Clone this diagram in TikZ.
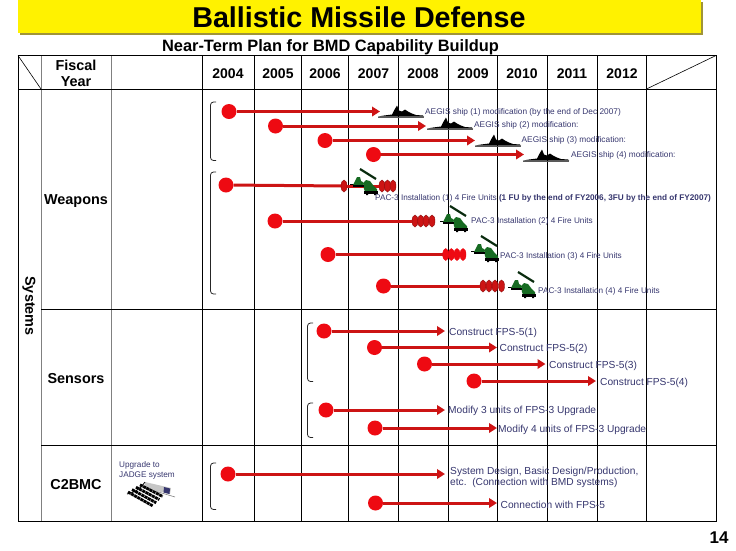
\documentclass[tikz,border=0pt]{standalone}
\usepackage{fontspec}
\setmainfont{Liberation Sans}
\usetikzlibrary{arrows.meta,shapes.geometric}
\definecolor{barred}{HTML}{CC1414}
\definecolor{dotred}{HTML}{EE0A12}
\definecolor{labelblue}{HTML}{36366E}
\definecolor{bannerolive}{HTML}{A09438}
\definecolor{armygreen}{HTML}{176B22}
\tikzset{
  startdot/.style={circle,fill=dotred,inner sep=0pt,minimum size=15pt},
  unitdot/.style={ellipse,fill=barred,draw=barred!70!black,line width=.4pt,inner sep=0pt,minimum width=6pt,minimum height=12pt},
  barline/.style={draw=barred,line width=3pt},
  bararrow/.style={barline,-{Triangle[length=8pt,width=9.5pt,fill=dotred]}},
  tasklabel/.style={anchor=west,inner sep=0pt,yshift=-1pt,text=labelblue,font=\fontsize{10.2}{11.5}\selectfont},
  shiplabel/.style={anchor=west,inner sep=0pt,yshift=-1pt,text=labelblue,font=\fontsize{8.3}{10}\selectfont},
  pactext/.style={anchor=west,inner sep=0pt,yshift=-.5pt,text=labelblue,font=\fontsize{8.2}{10}\selectfont},
  yearlabel/.style={font=\bfseries\fontsize{14}{16}\selectfont,inner sep=0pt,yshift=-.8pt},
  rowlabel/.style={font=\bfseries\fontsize{14.4}{15}\selectfont,inner sep=0pt,align=center,yshift=-1pt},
  grid/.style={line width=.8pt,black},
  brace/.style={line width=.8pt,black!85,rounded corners=3pt},
  ship/.pic={
    \fill[black] (0,0)--(6,-1)--(14,-2)--(16,-6)--(19,-11)--(21,-6)--(24,-5)--(27,-7)--(30,-5)--(34,-3)--(38,-1.5)--(45,-1)--(46,0)--cycle;
    \draw[gray!70!black,line width=1pt] (0,.5)--(46,.5);
  },
  launcher/.pic={
    \draw[black,line width=.8pt] (0,0)--(5,0);
    \draw[armygreen!40!black,line width=2.2pt] (10,-15)--(26,-5);
    \fill[armygreen] (3,1)--(5,-3)--(7,-7)--(10,-7)--(11,-3)--(13,-2)--(13,1)--cycle;
    \fill[armygreen] (14,5)--(13,-1)--(16,-4)--(20,-3)--(23,1)--(27,5)--(27,8)--(15,8)--cycle;
    \fill[black] (3,1) rectangle (14,3);
    \fill[black] (14,7) rectangle (28,9.5);
    \fill[black] (16,9) rectangle (18,11) (24,9) rectangle (26,11);
  },
}
\begin{document}
\begin{tikzpicture}[x=1pt,y=-1pt]
\useasboundingbox (0,0) rectangle (736,550);
\fill[bannerolive] (20,2) rectangle (702.5,34.5);
\fill[yellow] (18,0) rectangle (700.5,33);
\node[inner sep=0pt,font=\bfseries\fontsize{28.7}{30}\selectfont] (title) at (359,17) {Ballistic Missile Defense};
\node[inner sep=0pt,font=\bfseries\fontsize{16.4}{18}\selectfont] (subtitle) at (330.5,47) {Near-Term Plan for BMD Capability Buildup};

\draw[gray,line width=1pt] (41,55.5)--(41,521) (111,55.5)--(111,521);
\foreach \x in {202,254.5,301.5,348.5,398.5,448.5,497.5,547.5,597.5,646.5}
  \draw[grid] (\x,55.5)--(\x,521);
\draw[grid] (18,55.5) rectangle (716,521);
\draw[grid] (18,89)--(716,89) (41,309)--(716,309) (41,445.5)--(716,445.5);
\draw[line width=.6pt] (18,55.5)--(41,89) (646.5,89)--(716,55.5);

\node[rowlabel] (fiscal) at (76,72.5) {Fiscal\\[1.5pt]Year};
\foreach \x/\yr in {228/2004,278/2005,325/2006,373.5/2007,423/2008,473/2009,522/2010,572/2011,622/2012}
  \node[yearlabel] (y\yr) at (\x,73) {\yr};
\node[rowlabel] (weapons) at (76,200) {Weapons};
\node[rowlabel] (sensors) at (76,378) {Sensors};
\node[rowlabel] (c2bmc) at (76,484) {C2BMC};
\node[rowlabel,rotate=-90] (systems) at (29,305) {Systems};
\node[inner sep=0pt,anchor=north west,align=left,text=labelblue,font=\fontsize{8.2}{10}\selectfont] (jadge) at (119,461.5) {Upgrade to\\JADGE system};
\fill[gray!45] (145,482)--(171,488)--(170,494)--(144,488)--cycle;
\fill[labelblue] (164,487)--(170,488.5)--(169.5,494)--(163.5,492.5)--cycle;
\draw[black,line width=.8pt] (127,494) .. controls (136,492) and (141,488) .. (145,482);
\draw[gray,line width=.6pt] (145,488)--(175,497);
\foreach \d in {0,4,8,12}
  \draw[black,line width=2.8pt,dash pattern=on 3pt off .6pt] (128+\d,492-\d*.6)--(153+\d*.8,506-\d*.8);
\node[inner sep=0pt,font=\bfseries\fontsize{17}{18}\selectfont] (page) at (719,537.5) {14};

\draw[brace] (216,102)--(210.5,102)--(210.5,160.5)--(216,160.5);
\draw[brace] (216,172)--(210.5,172)--(210.5,294)--(216,294);
\draw[brace] (313,323)--(307.5,323)--(307.5,381.5)--(313,381.5);
\draw[brace] (313,403)--(307.5,403)--(307.5,437.5)--(313,437.5);
\draw[brace] (216,463)--(210.5,463)--(210.5,509.5)--(216,509.5);

\node[startdot] (a1) at (229,111.5) {};
\node[startdot] (a2) at (275.5,126) {};
\node[startdot] (a3) at (325,140.5) {};
\node[startdot] (a4) at (373.5,154.5) {};
\coordinate (a1end) at (380,111.5);
\coordinate (a2end) at (426,126);
\coordinate (a3end) at (475,140.5);
\coordinate (a4end) at (524,154.5);
\draw[bararrow] (a1)--(a1end);
\draw[bararrow] (a2)--(a2end);
\draw[bararrow] (a3)--(a3end);
\draw[bararrow] (a4)--(a4end);
\pic at (378,116.5) {ship};
\pic at (427,128.5) {ship};
\pic at (475,145.5) {ship};
\pic at (523,160.5) {ship};
\node[shiplabel] (a1text) at (425,111) {AEGIS ship (1) modification (by the end of Dec 2007)};
\node[shiplabel] (a2text) at (474,124) {AEGIS ship (2) modification:};
\node[shiplabel] (a3text) at (521.5,139) {AEGIS ship (3) modification:};
\node[shiplabel] (a4text) at (571,154) {AEGIS ship (4) modification:};

\node[startdot] (p1) at (226,185) {};
\node[startdot] (p2) at (275,221) {};
\node[startdot] (p3) at (328,254.5) {};
\node[startdot] (p4) at (383.5,286) {};
\node[unitdot] (u1) at (344,186) {};
\foreach \n/\x in {2/382,3/387.5,4/393}
  \node[unitdot] (u\n) at (\x,186) {};
\foreach \n/\x in {1/415,2/420.7,3/426,4/432}
  \node[unitdot] (v\n) at (\x,221) {};
\foreach \n/\x in {1/445.7,2/451.3,3/457,4/463}
  \node[unitdot,fill=dotred,draw=dotred] (w\n) at (\x,254.5) {};
\foreach \n/\x in {1/483,2/489,3/495,4/501.5}
  \node[unitdot] (z\n) at (\x,286) {};
\draw[barline] (p1)--(u1);
\draw[barline] (u1)--(u2);
\draw[barline] (p2)--(v1);
\draw[barline] (p3)--(w1);
\draw[barline] (p4)--(z1);
\pic at (350,184) {launcher};
\pic at (440,221) {launcher};
\pic at (471,251) {launcher};
\pic at (508,287) {launcher};
\node[pactext] (p1text) at (375,198) {PAC-3 Installation (1) 4 Fire Units \textbf{(1 FU by the end of FY2006, 3FU by the end of FY2007)}};
\node[pactext] (p2text) at (471,221) {PAC-3 Installation (2) 4 Fire Units};
\node[pactext] (p3text) at (500,256) {PAC-3 Installation (3) 4 Fire Units};
\node[pactext] (p4text) at (538,291) {PAC-3 Installation (4) 4 Fire Units};

\node[startdot] (s1) at (324,331) {};
\node[startdot] (s2) at (374.5,347.5) {};
\node[startdot] (s3) at (424.5,364) {};
\node[startdot] (s4) at (474,381) {};
\node[startdot] (m1) at (326,410) {};
\node[startdot] (m2) at (375,428) {};
\coordinate (s1end) at (445,331);
\coordinate (s2end) at (497,347.5);
\coordinate (s3end) at (545.5,364);
\coordinate (s4end) at (596,381);
\coordinate (m1end) at (445,410);
\coordinate (m2end) at (497,428);
\draw[bararrow] (s1)--(s1end);
\draw[bararrow] (s2)--(s2end);
\draw[bararrow] (s3)--(s3end);
\draw[bararrow] (s4)--(s4end);
\draw[bararrow] (m1)--(m1end);
\draw[bararrow] (m2)--(m2end);
\node[tasklabel] (s1text) at (449,331.5) {Construct FPS-5(1)};
\node[tasklabel] (s2text) at (499.5,347.5) {Construct FPS-5(2)};
\node[tasklabel] (s3text) at (549,364.5) {Construct FPS-5(3)};
\node[tasklabel] (s4text) at (600,381.5) {Construct FPS-5(4)};
\node[tasklabel] (m1text) at (448,409.5) {Modify 3 units of FPS-3 Upgrade};
\node[tasklabel] (m2text) at (498,428.5) {Modify 4 units of FPS-3 Upgrade};

\node[startdot] (c1) at (228,474) {};
\node[startdot] (c2) at (375.5,503) {};
\coordinate (c1end) at (445,474);
\coordinate (c2end) at (497,503);
\draw[bararrow] (c1)--(c1end);
\draw[bararrow] (c2)--(c2end);
\node[tasklabel,align=left] (c1text) at (450,476.5) {System Design, Basic Design/Production,\\etc.\ \ (Connection with BMD systems)};
\node[tasklabel] (c2text) at (500.5,503.5) {Connection with FPS-5};
\end{tikzpicture}
\end{document}
